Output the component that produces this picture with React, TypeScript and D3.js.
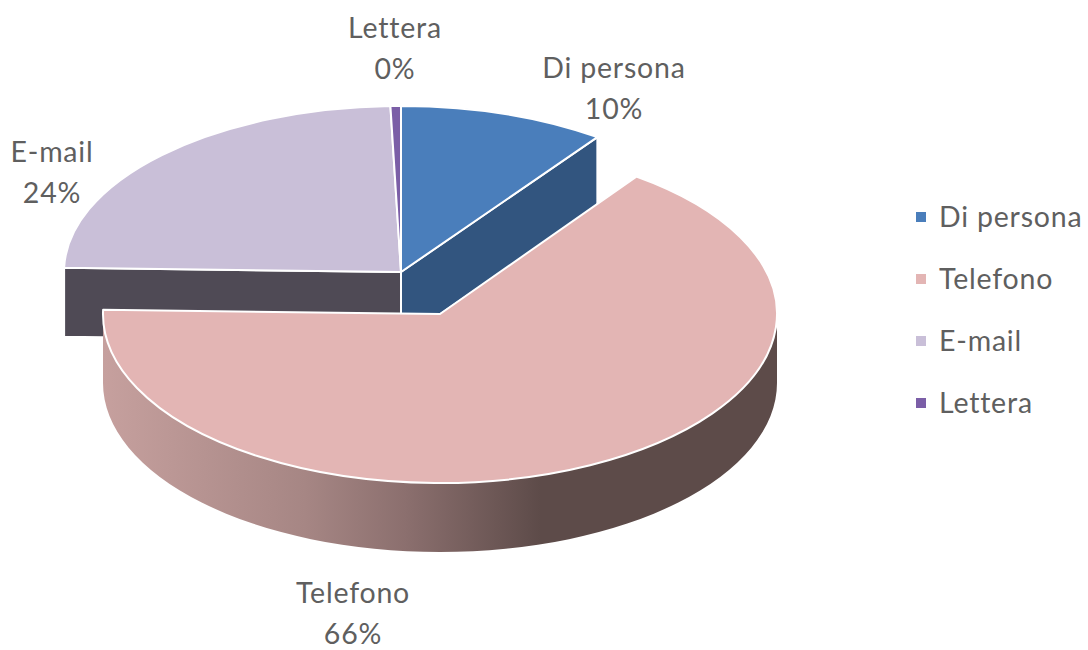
import React from "react";
import * as d3 from "d3";

const categories = ["Di persona", "Telefono", "E-mail", "Lettera"];
const shares = [9.9, 65.5, 24.1, 0.5];
const percentLabels = ["10%", "66%", "24%", "0%"];
const topColors = ["#4a7ebb", "#e3b5b4", "#c9bfd8", "#7b5ea7"];
const wallColors = ["#32557f", "#5d4b49", "#4f4a55", "#4f4a55"];

const WIDTH = 1088;
const HEIGHT = 650;
const cx = 401;
const cy = 272;
const rx = 337;
const ry = 166;
const telefonoRy = 169;
const depth = 69;
const explode = { x: 39, y: 42 };

const labelPos = [
  { x: 614, y: 68 },
  { x: 353, y: 593 },
  { x: 52, y: 152 },
  { x: 395, y: 28 },
];

const legendY = d3.scalePoint<string>().domain(categories).range([217, 403]);

const slices = d3
  .pie<number>()
  .sort(null)
  .startAngle(0)
  .endAngle(2 * Math.PI)(shares);

const px = (a: number, ox = 0) => ox + rx * Math.sin(a);
const py = (a: number, oy = 0, r = ry) => oy - r * Math.cos(a);

// top face of a slice, elliptical arc
function topPath(a0: number, a1: number, ox: number, oy: number, r = ry) {
  const large = a1 - a0 > Math.PI ? 1 : 0;
  return `M${ox},${oy}L${px(a0, ox)},${py(a0, oy, r)}A${rx},${r} 0 ${large} 1 ${px(a1, ox)},${py(a1, oy, r)}Z`;
}

// flat cut wall between centre and a rim point
function cutWall(a: number, ox: number, oy: number) {
  const x = px(a, ox);
  const y = py(a, oy);
  return `M${ox},${oy}L${x},${y}L${x},${y + depth}L${ox},${oy + depth}Z`;
}

// curved outer wall, front half only
function rimWall(a0: number, a1: number, ox: number, oy: number, r = ry) {
  const from = Math.max(a0, Math.PI / 2);
  const to = Math.min(a1, (3 * Math.PI) / 2);
  const x0 = px(from, ox);
  const y0 = py(from, oy, r);
  const x1 = px(to, ox);
  const y1 = py(to, oy, r);
  return `M${x0},${y0}A${rx},${r} 0 0 1 ${x1},${y1}L${x1},${y1 + depth}A${rx},${r} 0 0 0 ${x0},${y0 + depth}Z`;
}

const textStyle = {
  fontFamily: "Lato, 'Open Sans', sans-serif",
  fontSize: 28.5,
  letterSpacing: 0.8,
  fill: "#5f5f5f",
};

export default function App() {
  const [persona, telefono, email, lettera] = slices;
  const tx = cx + explode.x;
  const ty = cy + explode.y;
  return (
    <svg
      width={WIDTH}
      height={HEIGHT}
      style={{ position: "absolute", left: 0, top: 0, background: "#fff" }}
    >
      <defs>
        <linearGradient id="rimShade" gradientUnits="userSpaceOnUse" x1={tx - rx} x2={tx + rx} y1={0} y2={0}>
          <stop offset="0" stopColor="#c6a09e" />
          <stop offset="0.3" stopColor="#a68684" />
          <stop offset="0.45" stopColor="#8b6f6e" />
          <stop offset="0.65" stopColor="#5d4b49" />
          <stop offset="1" stopColor="#5d4b49" />
        </linearGradient>
      </defs>

      {/* back slices */}
      <path d={cutWall(email.startAngle, cx, cy)} fill={wallColors[2]} stroke="#fff" strokeWidth={2} />
      <path d={cutWall(persona.endAngle, cx, cy)} fill={wallColors[0]} stroke="#fff" strokeWidth={2} />
      {[persona, email, lettera].map((s) => (
        <path
          key={s.index}
          d={topPath(s.startAngle, s.endAngle, cx, cy)}
          fill={topColors[s.index]}
          stroke="#fff"
          strokeWidth={2}
          strokeLinejoin="round"
        />
      ))}

      {/* exploded Telefono */}
      <path d={rimWall(telefono.startAngle, telefono.endAngle, tx, ty, telefonoRy)} fill="url(#rimShade)" />
      <path
        d={topPath(telefono.startAngle, telefono.endAngle, tx, ty, telefonoRy)}
        fill={topColors[1]}
        stroke="#fff"
        strokeWidth={2}
        strokeLinejoin="round"
      />

      {/* data labels */}
      {slices.map((s) => (
        <text key={s.index} textAnchor="middle" {...textStyle}>
          <tspan x={labelPos[s.index].x} y={labelPos[s.index].y} dy="0.35em">
            {categories[s.index]}
          </tspan>
          <tspan x={labelPos[s.index].x} y={labelPos[s.index].y + 41} dy="0.35em">
            {percentLabels[s.index]}
          </tspan>
        </text>
      ))}

      {/* legend */}
      {categories.map((c, i) => (
        <g key={c} transform={`translate(916,${legendY(c)})`}>
          <rect x={0} y={-5} width={10} height={10} fill={topColors[i]} />
          <text x={23} dy="0.35em" {...textStyle}>
            {c}
          </text>
        </g>
      ))}
    </svg>
  );
}
